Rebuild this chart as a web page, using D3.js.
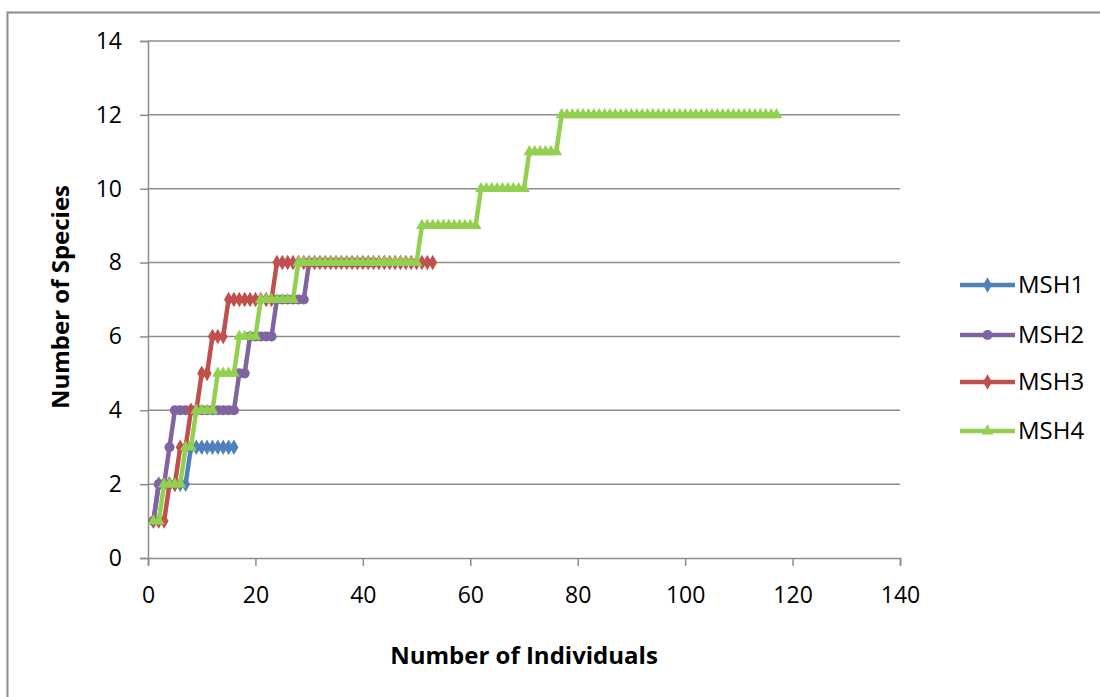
<!DOCTYPE html>
<html>
<head>
<meta charset="utf-8">
<script src="https://cdn.jsdelivr.net/npm/d3@7"></script>
<style>
  html, body { margin: 0; padding: 0; background: #ffffff; }
  svg { display: block; font-family: "Open Sans", Lato, "Liberation Sans", sans-serif; }
</style>
</head>
<body>
<svg id="chart" width="1100" height="697"></svg>
<script>
// Species accumulation: cumulative species count after each individual sampled
const seriesNames = ["MSH1", "MSH2", "MSH3", "MSH4"];
const seriesColors = ["#4F81BD", "#8064A2", "#C0504D", "#92D050"];
const seriesMarkers = ["diamond", "circle", "diamond", "triangle"];

const msh1 = [1, 2, 2, 2, 2, 2, 2, 3, 3, 3, 3, 3, 3, 3, 3, 3];
const msh2 = [1, 2, 2, 3, 4, 4, 4, 4, 4, 4, 4, 4, 4, 4, 4, 4, 5, 5, 6, 6,
              6, 6, 6, 7, 7, 7, 7, 7, 7, 8, 8, 8, 8, 8, 8, 8, 8, 8, 8, 8,
              8, 8];
const msh3 = [1, 1, 1, 2, 2, 3, 3, 4, 4, 5, 5, 6, 6, 6, 7, 7, 7, 7, 7, 7,
              7, 7, 7, 8, 8, 8, 8, 8, 8, 8, 8, 8, 8, 8, 8, 8, 8, 8, 8, 8,
              8, 8, 8, 8, 8, 8, 8, 8, 8, 8, 8, 8, 8];
const msh4 = [1, 1, 2, 2, 2, 2, 3, 3, 4, 4, 4, 4, 5, 5, 5, 5, 6, 6, 6, 6,
              7, 7, 7, 7, 7, 7, 7, 8, 8, 8, 8, 8, 8, 8, 8, 8, 8, 8, 8, 8,
              8, 8, 8, 8, 8, 8, 8, 8, 8, 8, 9, 9, 9, 9, 9, 9, 9, 9, 9, 9,
              9, 10, 10, 10, 10, 10, 10, 10, 10, 10, 11, 11, 11, 11, 11, 11, 12, 12, 12, 12,
              12, 12, 12, 12, 12, 12, 12, 12, 12, 12, 12, 12, 12, 12, 12, 12, 12, 12, 12, 12,
              12, 12, 12, 12, 12, 12, 12, 12, 12, 12, 12, 12, 12, 12, 12, 12, 12];
const seriesValues = [msh1, msh2, msh3, msh4];

const xTicks = [0, 20, 40, 60, 80, 100, 120, 140];
const yTicks = [0, 2, 4, 6, 8, 10, 12, 14];

const xTitle = "Number of Individuals";
const yTitle = "Number of Species";

const svg = d3.select("#chart");
const gridColor = "#8C8C8C";
const fontStack = "'Open Sans', Lato, sans-serif";

// outer chart frame
svg.append("rect")
  .attr("x", 7.5).attr("y", 12.5)
  .attr("width", 1200).attr("height", 800)
  .attr("fill", "none").attr("stroke", "#8C8C8C").attr("stroke-width", 2);

const x = d3.scaleLinear().domain([0, 140]).range([148, 900]);
const y = d3.scaleLinear().domain([0, 14]).range([558, 41]);

// horizontal gridlines
svg.append("g")
  .selectAll("line")
  .data(yTicks.filter(t => t > 0))
  .join("line")
  .attr("x1", x(0)).attr("x2", x(140))
  .attr("y1", d => y(d)).attr("y2", d => y(d))
  .attr("stroke", gridColor).attr("stroke-width", 1.5);

// y axis
const yAxis = svg.append("g")
  .attr("transform", `translate(${x(0)},0)`)
  .call(d3.axisLeft(y).tickValues(yTicks).tickSize(8).tickPadding(18).tickFormat(d3.format("d")));
yAxis.select(".domain").attr("stroke", gridColor).attr("stroke-width", 1.5);
yAxis.selectAll(".tick line").attr("stroke", gridColor).attr("stroke-width", 1.5);
yAxis.selectAll(".tick text").attr("font-size", 23).attr("fill", "#000")
  .attr("font-family", fontStack);

// x axis
const xAxis = svg.append("g")
  .attr("transform", `translate(0,${y(0)})`)
  .call(d3.axisBottom(x).tickValues(xTicks).tickSize(8).tickPadding(21).tickFormat(d3.format("d")));
xAxis.select(".domain").attr("stroke", gridColor).attr("stroke-width", 1.5);
xAxis.selectAll(".tick line").attr("stroke", gridColor).attr("stroke-width", 1.5);
xAxis.selectAll(".tick text").attr("font-size", 23).attr("fill", "#000")
  .attr("font-family", fontStack);

// axis titles
svg.append("text")
  .attr("x", 524).attr("y", 664)
  .attr("text-anchor", "middle")
  .attr("font-size", 24).attr("font-weight", "bold")
  .text(xTitle);

svg.append("text")
  .attr("transform", `translate(69,297) rotate(-90)`)
  .attr("text-anchor", "middle")
  .attr("font-size", 24).attr("font-weight", "bold")
  .text(yTitle);

// marker shapes
const symbolFor = {
  diamond: d3.symbol().type(d3.symbolDiamond).size(70),
  circle: d3.symbol().type(d3.symbolCircle).size(80),
  triangle: d3.symbol().type(d3.symbolTriangle).size(60)
};

const line = d3.line().x(d => x(d[0])).y(d => y(d[1]));

seriesValues.forEach((vals, i) => {
  const pts = vals.map((v, k) => [k + 1, v]);
  const g = svg.append("g");
  g.append("path")
    .datum(pts)
    .attr("d", line)
    .attr("fill", "none")
    .attr("stroke", seriesColors[i])
    .attr("stroke-width", 4.5)
    .attr("stroke-linejoin", "round");
  g.selectAll("path.mk")
    .data(pts)
    .join("path")
    .attr("class", "mk")
    .attr("d", symbolFor[seriesMarkers[i]]())
    .attr("transform", d => `translate(${x(d[0])},${y(d[1])})`)
    .attr("fill", seriesColors[i]);
});

// legend
const legendY = [285, 335, 382, 431];
const legend = svg.append("g");
seriesNames.forEach((name, i) => {
  const g = legend.append("g").attr("transform", `translate(0,${legendY[i]})`);
  g.append("line")
    .attr("x1", 960).attr("x2", 1015)
    .attr("stroke", seriesColors[i]).attr("stroke-width", 4.5);
  g.append("path")
    .attr("d", symbolFor[seriesMarkers[i]]())
    .attr("transform", "translate(987.5,0)")
    .attr("fill", seriesColors[i]);
  g.append("text")
    .attr("x", 1018).attr("y", 0).attr("dy", "0.35em")
    .attr("font-size", 24)
    .attr("font-family", fontStack)
    .text(name);
});
</script>
</body>
</html>
